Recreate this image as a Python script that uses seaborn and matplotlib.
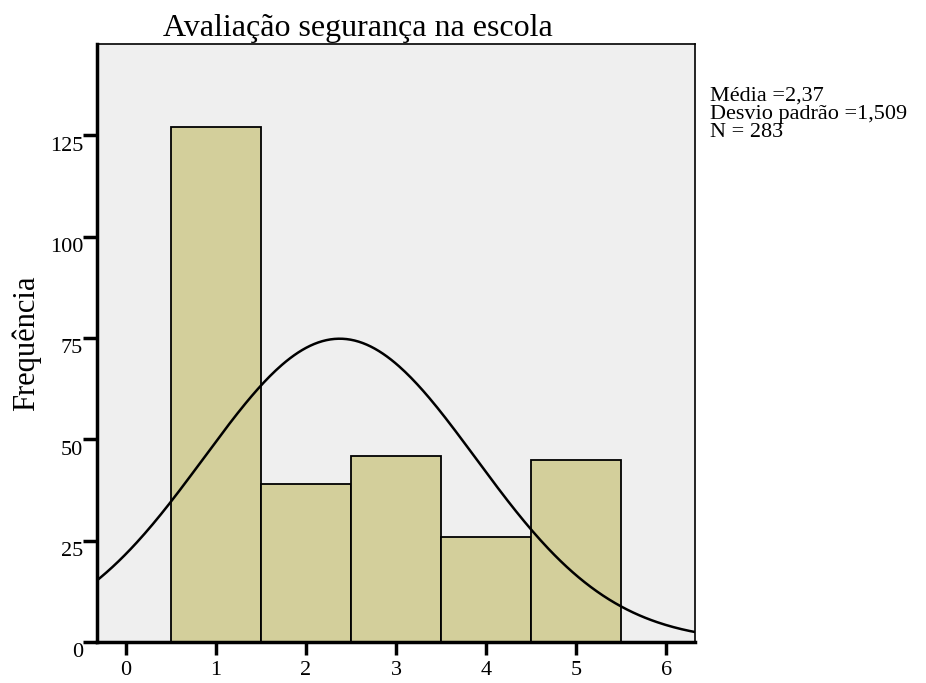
import numpy as np
import pandas as pd
import matplotlib
matplotlib.use('Agg')
import matplotlib.pyplot as plt
import matplotlib.transforms as mtransforms
import seaborn as sns

# dados
valores = [1, 2, 3, 4, 5]
frequencias = [127, 39, 46, 26, 45]
y_ticks = [0, 25, 50, 75, 100, 125]
x_ticks = [0, 1, 2, 3, 4, 5, 6]

df = pd.DataFrame({'valor': valores, 'freq': frequencias})

# curva normal ajustada (média e desvio a partir das frequências)
n = df['freq'].sum()
media = np.average(df['valor'], weights=df['freq'])
desvio = np.sqrt(np.sum(df['freq'] * (df['valor'] - media) ** 2) / (n - 1))
xs = np.linspace(-0.35, 6.35, 300)
curva = pd.DataFrame({'x': xs,
                      'y': n * np.exp(-0.5 * ((xs - media) / desvio) ** 2) / (desvio * np.sqrt(2 * np.pi))})

sns.set_style('white')
plt.rcParams['font.family'] = ['Liberation Serif', 'DejaVu Serif']
plt.rcParams['text.color'] = 'black'
plt.rcParams['axes.labelcolor'] = 'black'

fig = plt.figure(figsize=(9.26, 6.83), dpi=100)
ax = fig.add_axes([97 / 926, 1 - 642 / 683, (695 - 97) / 926, (642 - 44) / 683])
ax.set_facecolor('#EFEFEF')

sns.histplot(data=df, x='valor', weights='freq', discrete=True, ax=ax,
             color='#D3CF9B', alpha=1, edgecolor='black', linewidth=1.3)
sns.lineplot(data=curva, x='x', y='y', ax=ax, color='black', linewidth=1.8)

ax.set_xlim(-0.32, 6.32)
ax.set_ylim(0, 147.5)
ax.set_xticks(x_ticks)
ax.set_yticks(y_ticks)
ax.set_xlabel('')
ax.set_ylabel('Frequência', fontsize=22, labelpad=6, color='black')
fig.text(163 / 926, 1 - 36 / 683, 'Avaliação segurança na escola',
         fontsize=23, ha='left', va='baseline')

for s in ['left', 'bottom']:
    ax.spines[s].set_linewidth(2.5)
for s in ['top', 'right']:
    ax.spines[s].set_linewidth(1.2)
for s in ax.spines.values():
    s.set_color('black')

ax.tick_params(axis='y', direction='out', length=10, width=2.5, pad=0, labelsize=16,
               left=True, color='black', labelcolor='black')
ax.tick_params(axis='x', direction='out', length=9, width=2.5, pad=5, labelsize=16,
               bottom=True, color='black', labelcolor='black')
desloca = mtransforms.ScaledTranslation(0, -1 / 72, fig.dpi_scale_trans)
for lab in ax.get_yticklabels():
    lab.set_verticalalignment('top')
    lab.set_transform(lab.get_transform() + desloca)

fig.text(710 / 926, 1 - 87 / 683,
         'Média =2,37\nDesvio padrão =1,509\nN = 283',
         fontsize=16, va='top', ha='left', linespacing=0.92)

fig.savefig('out.png', dpi=100)
